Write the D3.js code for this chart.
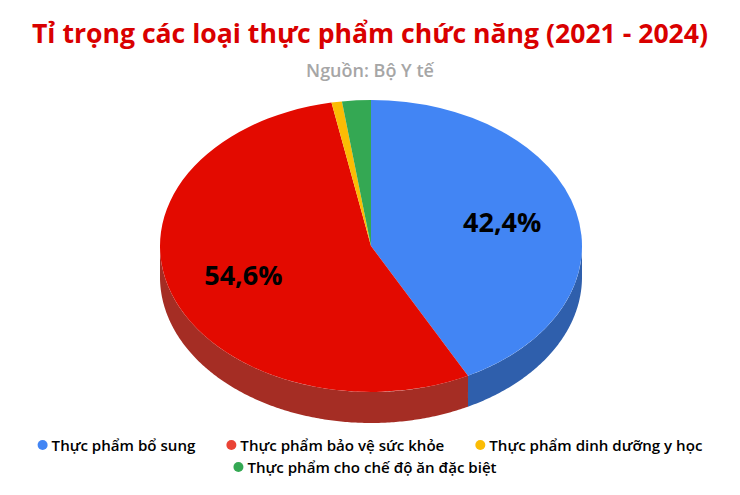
<!DOCTYPE html>
<html>
<head>
<meta charset="utf-8">
<script src="https://cdn.jsdelivr.net/npm/d3@7"></script>
<style>
  html, body { margin: 0; background: #fff; }
  text { font-family: "Open Sans", sans-serif; }
</style>
</head>
<body>
<div id="chart"></div>
<script>
/* DATA */
const categories = ["Thực phẩm bổ sung", "Thực phẩm bảo vệ sức khỏe", "Thực phẩm dinh dưỡng y học", "Thực phẩm cho chế độ ăn đặc biệt"];
const shares = [42.4, 54.6, 0.8, 2.2];
const shareLabels = ["42,4%", "54,6%", "", ""];
const sliceColors = ["#4285f4", "#e30a00", "#fbbc04", "#34a853"];
const wallColors = ["#2f5fac", "#a52d24", "#b08403", "#247638"];
const legendColors = ["#4285f4", "#ea4335", "#fbbc04", "#34a853"];
const legendRows = [[0, 1, 2], [3]];

/* CONSTANTS */
const width = 740, height = 495;
const cx = 371, cy = 246, rx = 211, ry = 146, depth = 31;

const svg = d3.select("#chart").append("svg")
  .attr("width", width)
  .attr("height", height);

/* TITLES */
svg.append("text")
  .attr("x", 370).attr("y", 43)
  .attr("text-anchor", "middle")
  .attr("font-size", 26.6).attr("font-weight", 700)
  .attr("fill", "#d90000")
  .text("Tỉ trọng các loại thực phẩm chức năng (2021 - 2024)");

svg.append("text")
  .attr("x", 370).attr("y", 77)
  .attr("text-anchor", "middle")
  .attr("font-size", 18).attr("font-weight", 600)
  .attr("fill", "#a6a6a6")
  .text("Nguồn: Bộ Y tế");

/* PIE */
const pie = d3.pie().sort(null).value(d => d);
const slices = pie(shares);

const pieG = svg.append("g").attr("transform", `translate(${cx},${cy})`);

// side wall, only the part of each slice facing the viewer
const wall = d3.area()
  .x(a => rx * Math.sin(a))
  .y0(a => -ry * Math.cos(a))
  .y1(a => -ry * Math.cos(a) + depth);

slices.forEach((s, i) => {
  const a0 = Math.max(s.startAngle, Math.PI / 2);
  const a1 = Math.min(s.endAngle, Math.PI * 1.5);
  if (a1 <= a0) return;
  const steps = d3.range(a0, a1, 0.01).concat(a1);
  pieG.append("path").attr("d", wall(steps)).attr("fill", wallColors[i]);
});

// top face: circular arc squashed to an ellipse
const arc = d3.arc().innerRadius(0).outerRadius(rx);
pieG.append("g")
  .attr("transform", `scale(1,${ry / rx})`)
  .selectAll("path")
  .data(slices)
  .join("path")
  .attr("d", arc)
  .attr("fill", (d, i) => sliceColors[i]);

// value labels
const labelRadius = 0.64;
pieG.selectAll("text")
  .data(slices.filter((d, i) => shareLabels[i]))
  .join("text")
  .attr("x", d => rx * labelRadius * Math.sin((d.startAngle + d.endAngle) / 2))
  .attr("y", d => -ry * labelRadius * Math.cos((d.startAngle + d.endAngle) / 2) - 2)
  .attr("text-anchor", "middle")
  .attr("dominant-baseline", "central")
  .attr("font-size", 27).attr("font-weight", 700)
  .attr("fill", "#000")
  .text(d => shareLabels[d.index]);

/* LEGEND */
const itemGap = 31, markerR = 5, markerPad = 4;
legendRows.forEach((row, r) => {
  const y = 445 + r * 22;
  const g = svg.append("g");
  let x = 0;
  row.forEach(i => {
    g.append("circle").attr("cx", x + markerR).attr("cy", y).attr("r", markerR).attr("fill", legendColors[i]);
    const t = g.append("text")
      .attr("x", x + markerR * 2 + markerPad).attr("y", y)
      .attr("dominant-baseline", "central")
      .attr("font-size", 15.1).attr("font-weight", 600)
      .attr("fill", "#000")
      .text(categories[i]);
    x += markerR * 2 + markerPad + t.node().getComputedTextLength() + itemGap;
  });
  // second row sits a little left of centre in the original
  const nudge = r === 0 ? 0 : -5;
  g.attr("transform", `translate(${(width - (x - itemGap)) / 2 + nudge},0)`);
});
</script>
</body>
</html>
